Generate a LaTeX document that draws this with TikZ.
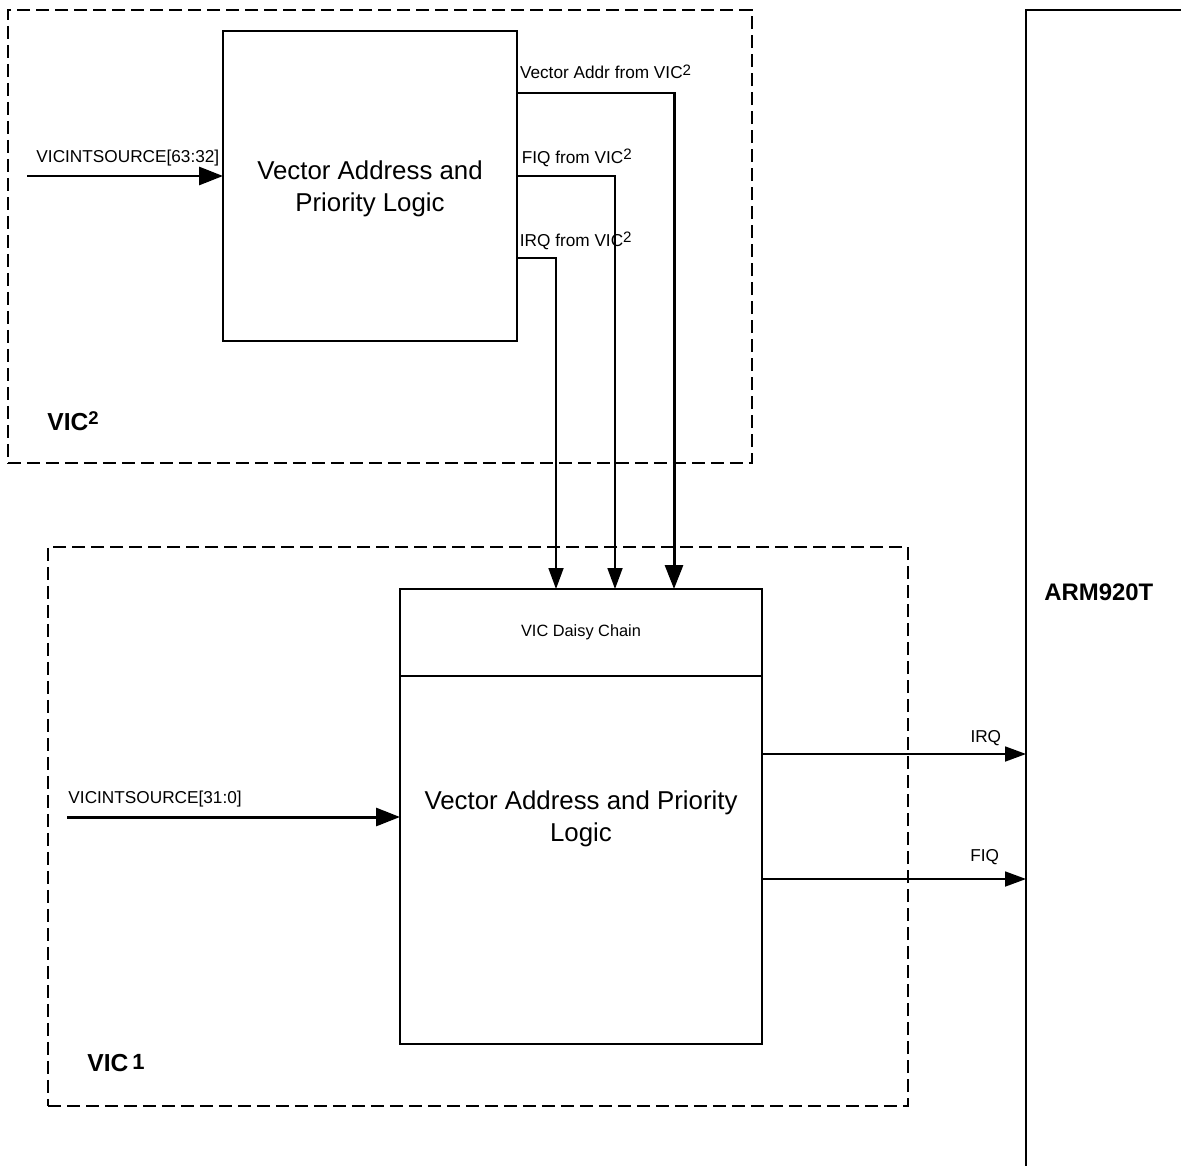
\documentclass[tikz,border=0pt]{standalone}
\usepackage{fontspec}
\setmainfont{Liberation Sans}
\usetikzlibrary{arrows.meta,positioning}
\newcommand{\vicsup}[1]{\raisebox{0.35ex}{\fontsize{8.6}{9}\selectfont #1}}
\tikzset{
	block/.style={
		rectangle, draw, line width=1pt,
		inner sep=0pt, outer sep=0pt, align=center,
	},
	group/.style={
		rectangle, draw, line width=1pt, inner sep=0pt,
		dash pattern=on 0.26cm off 0.12cm,
	},
	sig/.style={
		draw, line width=1pt, -{Triangle[length=0.42cm,width=0.3cm]},
	},
	bus/.style={
		draw, line width=1.7pt, -{Triangle[length=0.48cm,width=0.36cm]},
	},
	tag/.style={font=\fontsize{9.8}{11}\selectfont, inner sep=0pt},
	grouptitle/.style={font=\fontsize{14}{16}\selectfont\bfseries, inner sep=0pt, anchor=west},
	big/.style={font=\fontsize{14.7}{18.2}\selectfont, align=center, inner sep=0pt}
}

\begin{document}
\begin{tikzpicture}[line join=miter]
		\path[use as bounding box, clip] (0,0) rectangle (23.62,-23.3);
		
		\node [group, minimum width=14.88cm, minimum height=9.06cm] (vicTwo) at (7.6,-4.73) {};
		\node [block, minimum width=5.88cm, minimum height=6.2cm] (logicTwo) at (7.4,-3.72) {};
		\node [big] (logicTwoText) at ([yshift=-0.06cm]logicTwo.center) {Vector Address and\\Priority Logic};
		\node [grouptitle] (vicTwoName) at (0.94,-8.43) {VIC\raisebox{0.45ex}{\fontsize{10.5}{12}\selectfont 2}};
		
		\node [group, minimum width=17.2cm, minimum height=11.18cm] (vicOne) at (9.56,-16.53) {};
		\node [block, minimum width=7.24cm, minimum height=1.74cm, font=\fontsize{9.3}{11}\selectfont] (daisy) at (11.62,-12.65) {VIC Daisy Chain};
		\node [block, minimum width=7.24cm, minimum height=7.36cm, below=0pt of daisy] (logicOne) {};
		\coordinate (srcOne) at (1.34,-16.34);
		\node [big] (logicOneText) at ([yshift=-0.03cm]logicOne.center |- srcOne) {Vector Address and Priority\\Logic};
		\node [grouptitle] (vicOneName) at (1.74,-21.26) {VIC\,\raisebox{0.15ex}{\fontsize{12.5}{14}\selectfont 1}};
		
		\node [block, anchor=north west, minimum width=6cm, minimum height=25cm] (arm) at (20.52,-0.2) {};
		\node [grouptitle, font=\fontsize{13.6}{16}\selectfont\bfseries] (armName) at (20.88,-11.84) {ARM920T};
		
		\coordinate (srcTwo) at (0.54,-3.52);
		\path [bus] (srcTwo) -- (srcTwo -| logicTwo.west) node[tag, pos=0, anchor=base west, xshift=0.16cm, yshift=0.27cm] {VICINTSOURCE[63:32]};
		\path [bus] (srcOne) -- (srcOne -| logicOne.west) node[tag, pos=0, anchor=base west, yshift=0.27cm] {VICINTSOURCE[31:0]};
		
		\coordinate (addrOut) at ([yshift=-1.24cm]logicTwo.north east);
		\coordinate (fiqOut) at ([yshift=-2.9cm]logicTwo.north east);
		\coordinate (irqOut) at ([yshift=-4.54cm]logicTwo.north east);
		\path [bus] (addrOut) -| ([xshift=5.48cm]daisy.north west) node[tag, pos=0, anchor=base west, xshift=0.03cm, yshift=0.28cm] {Vector Addr from VIC\vicsup{2}};
		\path [sig] (fiqOut) -| ([xshift=4.3cm]daisy.north west) node[tag, pos=0, anchor=base west, xshift=0.08cm, yshift=0.26cm] {FIQ from VIC\vicsup{2}};
		\path [sig] (irqOut) -| ([xshift=3.12cm]daisy.north west) node[tag, pos=0, anchor=base west, xshift=0.04cm, yshift=0.24cm] {IRQ from VIC\vicsup{2}};
		
		\coordinate (irqOne) at ([yshift=-1.56cm]logicOne.north east);
		\coordinate (fiqOne) at ([yshift=-4.06cm]logicOne.north east);
		\path [sig] (irqOne) -- (irqOne -| arm.west) node[tag, pos=1, anchor=base east, xshift=-0.48cm, yshift=0.24cm] {IRQ};
		\path [sig] (fiqOne) -- (fiqOne -| arm.west) node[tag, pos=1, anchor=base east, xshift=-0.52cm, yshift=0.36cm] {FIQ};
\end{tikzpicture}
\end{document}
